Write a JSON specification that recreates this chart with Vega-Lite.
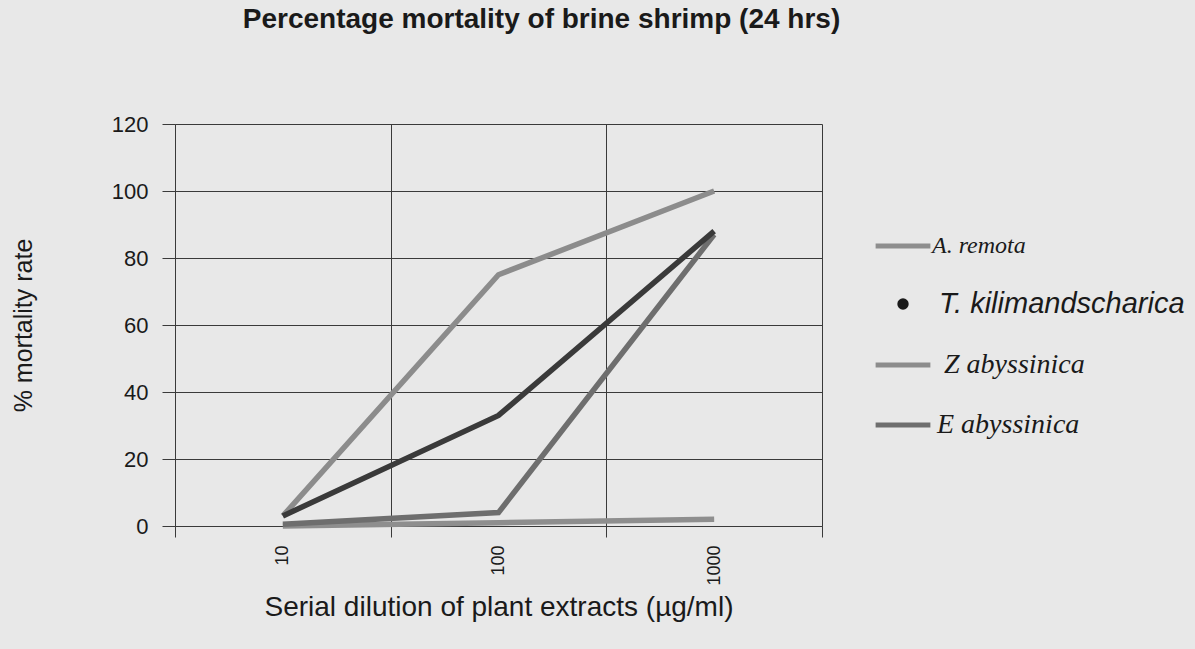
{
  "$schema": "https://vega.github.io/schema/vega-lite/v6.json",
  "width": 647,
  "height": 402,
  "autosize": {"type": "none"},
  "padding": {"left": 175, "top": 124, "right": 373, "bottom": 123},
  "background": "#e8e8e8",
  "config": {"view": {"stroke": null}, "font": "Liberation Sans"},
  "title": {
    "text": "Percentage mortality of brine shrimp (24 hrs)",
    "fontSize": 28,
    "fontWeight": "bold",
    "font": "Liberation Sans",
    "color": "#1a1a1a",
    "anchor": "middle",
    "frame": "group",
    "offset": 79,
    "dx": 43
  },
  "data": {
    "values": [
      {"dose": "10", "species": "A. remota", "mortality": 0},
      {"dose": "100", "species": "A. remota", "mortality": 1},
      {"dose": "1000", "species": "A. remota", "mortality": 2},
      {"dose": "10", "species": "E abyssinica", "mortality": 0.5},
      {"dose": "100", "species": "E abyssinica", "mortality": 4},
      {"dose": "1000", "species": "E abyssinica", "mortality": 87},
      {"dose": "10", "species": "Z abyssinica", "mortality": 3},
      {"dose": "100", "species": "Z abyssinica", "mortality": 75},
      {"dose": "1000", "species": "Z abyssinica", "mortality": 100},
      {"dose": "10", "species": "T. kilimandscharica", "mortality": 3},
      {"dose": "100", "species": "T. kilimandscharica", "mortality": 33},
      {"dose": "1000", "species": "T. kilimandscharica", "mortality": 88}
    ]
  },
  "mark": {"type": "line", "strokeWidth": 5.5, "strokeJoin": "miter"},
  "encoding": {
    "x": {
      "field": "dose",
      "type": "ordinal",
      "sort": ["10", "100", "1000"],
      "bandPosition": 0.5,
      "scale": {"type": "band", "paddingInner": 0, "paddingOuter": 0},
      "axis": {
        "tickBand": "extent",
        "grid": true,
        "gridColor": "#3a3a3a",
        "gridOpacity": 1,
        "gridWidth": 1,
        "domainColor": "#3a3a3a",
        "tickColor": "#3a3a3a",
        "tickSize": 11,
        "labelAngle": -90,
        "labelFontSize": 18,
        "labelColor": "#1a1a1a",
        "labelPadding": 8,
        "title": "Serial dilution of plant extracts (µg/ml)",
        "titleFontSize": 28,
        "titleFontWeight": "normal",
        "titleColor": "#1a1a1a",
        "titlePadding": 8
      }
    },
    "y": {
      "field": "mortality",
      "type": "quantitative",
      "scale": {"domain": [0, 120], "nice": false},
      "axis": {
        "values": [0, 20, 40, 60, 80, 100, 120],
        "grid": true,
        "gridColor": "#3a3a3a",
        "gridOpacity": 1,
        "gridWidth": 1,
        "domainColor": "#3a3a3a",
        "tickColor": "#3a3a3a",
        "tickSize": 13,
        "labelFontSize": 22,
        "labelColor": "#1a1a1a",
        "labelPadding": 14,
        "title": "% mortality rate",
        "titleFontSize": 25,
        "titleFontWeight": "normal",
        "titleColor": "#1a1a1a",
        "titlePadding": 75
      }
    },
    "color": {
      "field": "species",
      "type": "nominal",
      "scale": {
        "domain": ["A. remota", "T. kilimandscharica", "Z abyssinica", "E abyssinica"],
        "range": ["#8e8e8e", "#3a3a3a", "#8c8c8c", "#6e6e6e"]
      },
      "legend": {
        "title": null,
        "orient": "none",
        "legendX": 714,
        "legendY": 108,
        "symbolType": "stroke",
        "symbolSize": 3000,
        "symbolStrokeWidth": 5,
        "rowPadding": 32,
        "labelOffset": 15,
        "labelFontSize": 26,
        "labelFontStyle": "italic",
        "labelColor": "#1a1a1a",
        "labelLimit": 400,
        "encode": {
          "labels": {
            "update": {
              "font": {"signal": "datum.label === 'T. kilimandscharica' ? 'Liberation Sans' : 'Liberation Serif'"},
              "fontSize": {"signal": "datum.label === 'T. kilimandscharica' ? 29 : datum.label === 'A. remota' ? 24 : 28"},
              "dx": {"signal": "datum.label === 'T. kilimandscharica' ? 7 : datum.label === 'Z abyssinica' ? 12 : datum.label === 'E abyssinica' ? 5 : 0"}
            }
          },
          "symbols": {
            "update": {
              "shape": {"signal": "datum.label === 'T. kilimandscharica' ? 'circle' : 'stroke'"},
              "size": {"signal": "datum.label === 'T. kilimandscharica' ? 130 : 3000"},
              "fill": {"signal": "datum.label === 'T. kilimandscharica' ? '#1a1a1a' : 'transparent'"},
              "strokeWidth": {"signal": "datum.label === 'T. kilimandscharica' ? 0 : 5"}
            }
          }
        }
      }
    },
    "order": {"field": "species"}
  }
}
